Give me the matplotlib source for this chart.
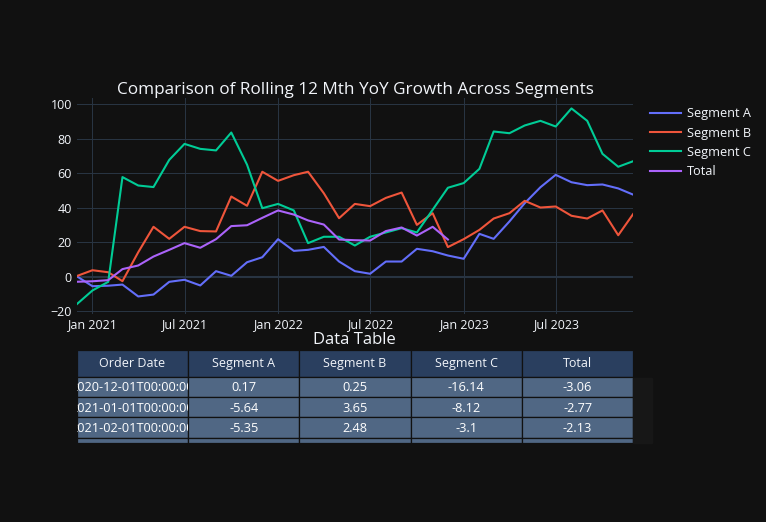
import matplotlib
matplotlib.use("Agg")
import matplotlib.pyplot as plt
import matplotlib.dates as mdates
from matplotlib.patches import Rectangle
import pandas as pd

plt.rcParams['font.family'] = ['Open Sans', 'DejaVu Sans']

# monthly rolling 12 mth YoY growth (%), Dec 2020 .. Dec 2023
order_dates = pd.date_range('2020-12-01', periods=37, freq='MS')

seg_a = [0.17, -5.64, -5.35, -4.7, -11.6, -10.5, -3.1, -1.9, -5.2, 3.1, 0.4, 8.3,
         11.2, 21.7, 14.9, 15.5, 17.2, 8.7, 3.1, 1.6, 8.7, 8.7, 16.1, 14.7,
         12.2, 10.3, 24.8, 21.9, 32.0, 42.6, 51.9, 59.1, 54.8, 53.1, 53.5, 51.2, 47.5]
seg_b = [0.25, 3.65, 2.48, -2.7, 14.1, 28.9, 21.9, 28.9, 26.4, 26.2, 46.5, 41.1,
         60.9, 55.6, 58.9, 60.9, 48.4, 33.9, 42.2, 40.9, 45.7, 48.8, 30.0, 36.8,
         17.1, 21.7, 27.1, 33.7, 36.8, 44.0, 40.1, 40.7, 35.3, 33.7, 38.4, 24.0, 36.6]
seg_c = [-16.14, -8.12, -3.1, 57.8, 52.9, 52.0, 67.8, 77.1, 74.2, 73.3, 83.7, 65.0,
         39.7, 42.2, 38.4, 19.4, 23.1, 23.1, 18.0, 23.1, 25.6, 28.1, 25.6, 38.8,
         51.6, 54.3, 62.6, 84.3, 83.3, 87.8, 90.5, 87.2, 97.7, 90.5, 71.3, 63.8, 67.1]
total = [-3.06, -2.77, -2.13, 4.3, 6.4, 11.6, 15.5, 19.4, 16.7, 21.7, 29.3, 29.8,
         34.1, 38.4, 36.0, 32.6, 30.2, 21.5, 21.1, 20.9, 26.4, 28.5, 23.8, 28.9, 21.5]

series_names = ['Segment A', 'Segment B', 'Segment C', 'Total']
series_values = [seg_a, seg_b, seg_c, total]
colors = ['#636efa', '#EF553B', '#00cc96', '#ab63fa']
table_columns = ['Order Date'] + series_names

BG = '#111111'
GRID = '#283442'
FG = '#f2f5fa'

fig = plt.figure(figsize=(7.66, 5.22), dpi=100, facecolor=BG)

# ---- line chart ----
W, H = 766.0, 522.0
ax = fig.add_axes([76.7 / W, 1 - 314 / H, (633.5 - 76.7) / W, (314 - 98.3) / H])
ax.set_facecolor(BG)
for name, vals, c in zip(series_names, series_values, colors):
    ax.plot(order_dates[:len(vals)], vals, color=c, lw=1.5, label=name,
            solid_joinstyle='round', zorder=3)

ax.set_xlim(order_dates[0], order_dates[-1])
ax.set_ylim(-21.8, 103.6)
ax.set_yticks([-20, 0, 20, 40, 60, 80, 100])
ax.xaxis.set_major_locator(mdates.MonthLocator(bymonth=[1, 7]))
ax.xaxis.set_major_formatter(mdates.DateFormatter('%b %Y'))
ax.grid(True, color=GRID, lw=0.75, zorder=0)
ax.axhline(0, color=GRID, lw=1.5, zorder=1)
for s in ax.spines.values():
    s.set_visible(False)
ax.tick_params(length=0, colors=FG, labelsize=9)
ax.tick_params(axis='y', pad=3.5)
ax.tick_params(axis='x', pad=3)
ax.set_title('Comparison of Rolling 12 Mth YoY Growth Across Segments',
             color=FG, fontsize=12.3, pad=3)

leg = fig.legend(*ax.get_legend_handles_labels(), loc='upper left',
                 bbox_to_anchor=(645 / W, 1 - 102 / H), frameon=False,
                 fontsize=9.2, labelcolor=FG, handlelength=2.4, handletextpad=0.45,
                 labelspacing=0.5, borderaxespad=0)

# ---- data table ----
fig.text(354 / W, 1 - 340 / H, 'Data Table', color=FG, fontsize=12,
         ha='center', va='center')

tx0, tx1, ty0, ty1 = 76.7, 633.3, 350.0, 442.7
table_h = ty1 - ty0
# faint scrollbar track to the right of the table
fig.patches.append(Rectangle((633.3 / W, 1 - 443 / H), 19 / W, (443 - 377.7) / H,
                             transform=fig.transFigure, color='#171717', zorder=0))
tax = fig.add_axes([tx0 / W, 1 - ty1 / H, (tx1 - tx0) / W, table_h / H])
tax.set_xlim(0, 5)
tax.set_ylim(table_h, 0)
tax.axis('off')

header_h, row_h = 26.7, 20.3
for j, col in enumerate(table_columns):
    tax.add_patch(Rectangle((j, 0), 1, header_h, facecolor='#2a3f5f',
                            edgecolor=BG, lw=0.9))
    tax.text(j + 0.5, header_h / 2, col, color=FG, fontsize=9,
             ha='center', va='center')

for i in range(4):
    y = header_h + i * row_h
    h = min(row_h, table_h - y)  # last row is cut off by the table's area
    row = [order_dates[i].strftime('%Y-%m-%dT%H:%M:%S')]
    row += [repr(round(v[i], 2)) for v in series_values]
    for j, val in enumerate(row):
        cell = Rectangle((j, y), 1, h, facecolor='#506784', edgecolor=BG, lw=0.9)
        tax.add_patch(cell)
        t = tax.text(j + 0.5, y + row_h / 2 + 1, val, color='white', fontsize=9.2,
                     ha='center', va='center', clip_on=True)
        t.set_clip_path(cell)

fig.savefig('out.png', dpi=100, facecolor=BG)
